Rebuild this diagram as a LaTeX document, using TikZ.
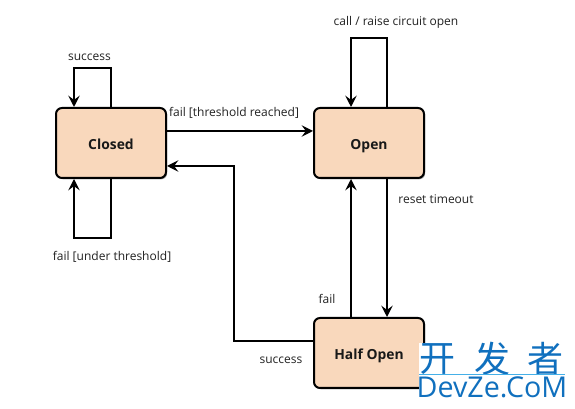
\documentclass[tikz,border=0pt]{standalone}
\usepackage{fontspec}
\setmainfont{Open Sans}
\newfontfamily\cjkwm{Noto Sans CJK SC}
\usetikzlibrary{arrows.meta,shadows,calc}
\definecolor{boxfill}{HTML}{F9D8BC}
\definecolor{inktext}{HTML}{222222}
\definecolor{wmblue}{HTML}{1070BE}
\definecolor{wmline}{HTML}{45B0E8}
\tikzset{
  statebox/.style={draw=black,line width=1.5pt,rounded corners=4.5pt,fill=boxfill,
    minimum width=82.5pt,minimum height=52.5pt,inner sep=0pt,text height=10.9pt,text depth=1pt,
    font=\fontsize{10.4}{12}\selectfont\bfseries,text=black!90,
    drop shadow={shadow xshift=.9pt,shadow yshift=-1pt,opacity=.35,fill=black}},
  conn/.style={draw=black,line width=1.6pt,-{Stealth[length=8.5pt,width=8.5pt,inset=3.2pt,line width=1.2pt]}},
  lbl/.style={font=\fontsize{9}{11}\selectfont,text=inktext,inner sep=0pt},
  wmglyph/.style={inner sep=0pt,text=wmblue,font=\cjkwm\fontsize{27}{29}\selectfont},
}
\begin{document}
\begin{tikzpicture}[x=.75pt,y=-.75pt]
\useasboundingbox[fill=white] (0,0) rectangle (575,409);
% nodes
\node[statebox] (closed) at (111,143) {Closed};
\node[statebox] (open) at (369,143) {Open};
\node[statebox] (half) at (369,353) {Half Open};
% waypoints
\coordinate (closedTopIn) at (74,107);
\coordinate (closedTopBend) at (74,68);
\coordinate (closedBotIn) at (74,179);
\coordinate (closedBotBend) at (74,238);
\coordinate (openTopIn) at (351,107);
\coordinate (openTopBend) at (351,38);
\coordinate (openBotIn) at (351,179);
\coordinate (halfTopOut) at (351,318);
\coordinate (openBotOut) at (387,178);
\coordinate (halfTopIn) at (387,317);
\coordinate (openLeft) at (313,131);
\coordinate (closedRightOut) at (166,131);
\coordinate (closedRightIn) at (167,166);
\coordinate (halfLeftOut) at (314,341);
\coordinate (retBend) at (234,341);
% connectors
\draw[conn] (closed.north) |- (closedTopBend) -- (closedTopIn);
\draw[conn] (closed.south) |- (closedBotBend) -- (closedBotIn);
\draw[conn] (open.north -| openBotOut) |- (openTopBend) -- (openTopIn);
\draw[conn] (closedRightOut) -- (openLeft);
\draw[conn] (halfLeftOut) -- (retBend) |- (closedRightIn);
\draw[conn] (halfTopOut) -- (openBotIn);
\draw[conn] (openBotOut) -- (halfTopIn);
% labels
\node[lbl] (l1) at (89.5,57.5) {success};
\node[lbl] (l2) at (112,257) {fail [under threshold]};
\node[lbl] (l3) at (234,112.5) {fail [threshold reached]};
\node[lbl] (l4) at (396,22.7) {call / raise circuit open};
\node[lbl] (l5) at (436,199) {reset timeout};
\node[lbl] (l6) at (327,298.5) {fail};
\node[lbl] (l7) at (281,360) {success};
% watermark
\fill[white] (419,343) rectangle (575,409);
\node[wmglyph] (wm1) at (437.5,359) {开};
\node[wmglyph] (wm2) at (492.5,359) {发};
\node[wmglyph] (wm3) at (545.5,359) {者};
\draw[wmline,line width=.5pt] (419,374.5) -- (565,374.5);
\node[inner sep=0pt,text=wmblue,font=\fontsize{21.5}{24}\selectfont] (wm4) at (492,387) {DevZe.CoM};
\end{tikzpicture}
\end{document}
